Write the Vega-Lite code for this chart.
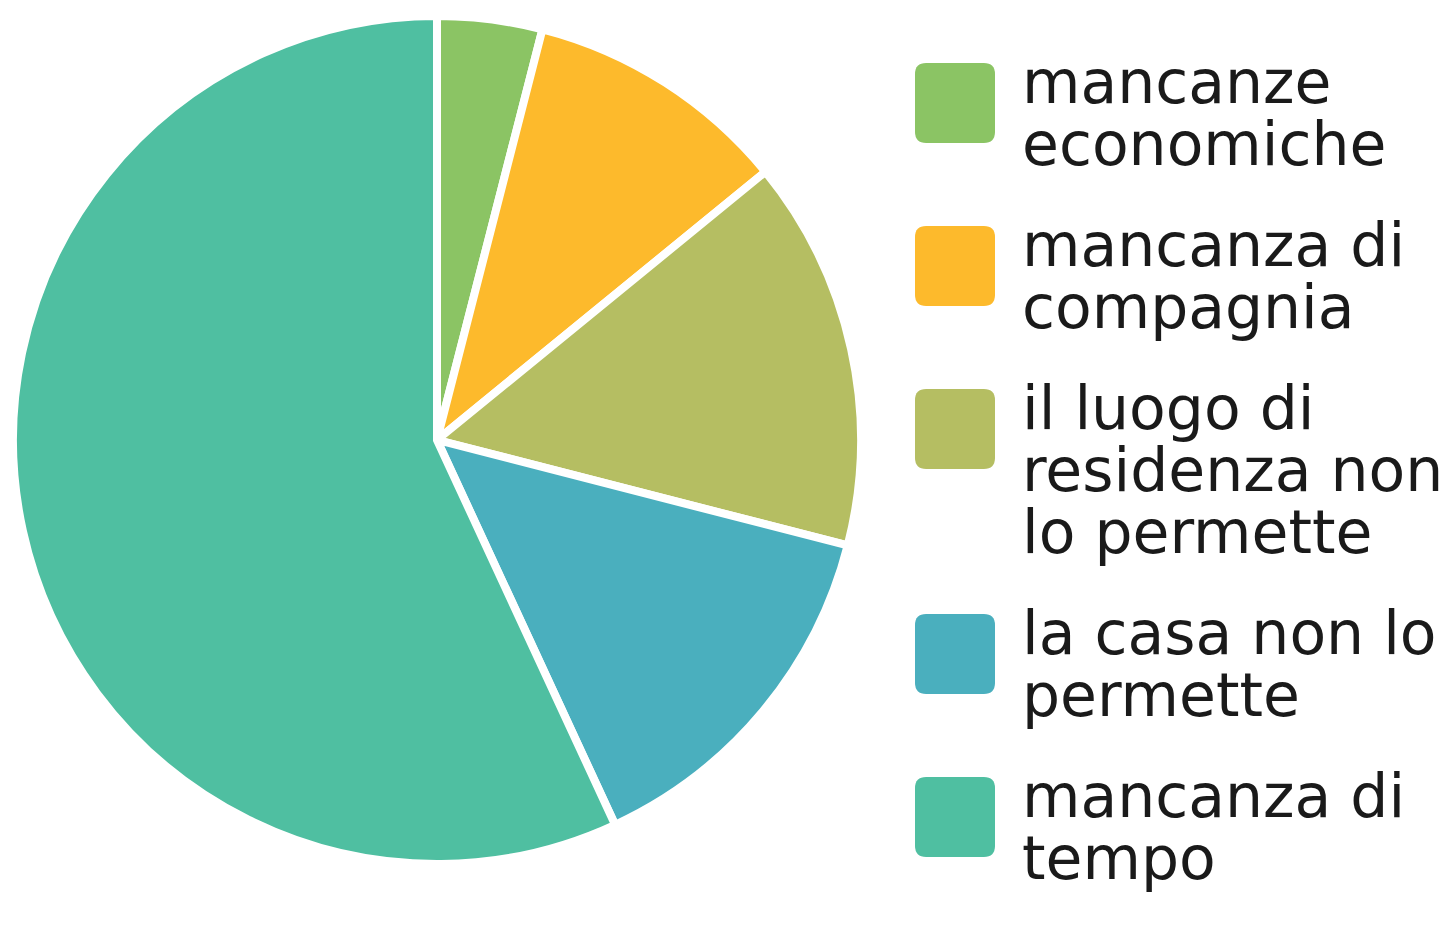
{
  "$schema": "https://vega.github.io/schema/vega-lite/v6.json",
  "width": 874,
  "height": 880,
  "autosize": "none",
  "padding": {"left": 0, "top": 0, "right": 568, "bottom": 46},
  "background": "white",
  "config": {"view": {"stroke": null}},
  "data": {
    "values": [
      {"reason": "mancanze economiche", "value": 4, "order": 1},
      {"reason": "mancanza di compagnia", "value": 10.1, "order": 2},
      {"reason": "il luogo di residenza non lo permette", "value": 14.9, "order": 3},
      {"reason": "la casa non lo permette", "value": 14.1, "order": 4},
      {"reason": "mancanza di tempo", "value": 56.9, "order": 5}
    ]
  },
  "mark": {"type": "arc", "radius": 424, "stroke": "white", "strokeWidth": 8, "strokeJoin": "miter"},
  "encoding": {
    "theta": {"field": "value", "type": "quantitative", "stack": true},
    "order": {"field": "order", "type": "quantitative"},
    "color": {
      "field": "reason",
      "type": "nominal",
      "scale": {
        "domain": ["mancanze economiche", "mancanza di compagnia", "il luogo di residenza non lo permette", "la casa non lo permette", "mancanza di tempo"],
        "range": ["#8BC464", "#FDBA2C", "#B5BE62", "#4AAFBE", "#4FBFA1"]
      },
      "legend": {
        "title": null,
        "orient": "none",
        "legendX": 915,
        "legendY": 63,
        "padding": 0,
        "symbolType": "M-0.72,-1 H0.72 Q1,-1 1,-0.72 V0.72 Q1,1 0.72,1 H-0.72 Q-1,1 -1,0.72 V-0.72 Q-1,-1 -0.72,-1 Z",
        "symbolSize": 6400,
        "symbolStrokeWidth": 0,
        "symbolOpacity": 1,
        "labelFont": "DejaVu Sans",
        "labelFontSize": 60,
        "labelColor": "#1a1a1a",
        "labelOffset": 27,
        "labelLimit": 600,
        "labelBaseline": "alphabetic",
        "rowPadding": 41,
        "labelExpr": "datum.label == 'mancanze economiche' ? ['mancanze','economiche'] : datum.label == 'mancanza di compagnia' ? ['mancanza di','compagnia'] : datum.label == 'il luogo di residenza non lo permette' ? ['il luogo di','residenza non','lo permette'] : datum.label == 'la casa non lo permette' ? ['la casa non lo','permette'] : ['mancanza di','tempo']"
      }
    }
  }
}
